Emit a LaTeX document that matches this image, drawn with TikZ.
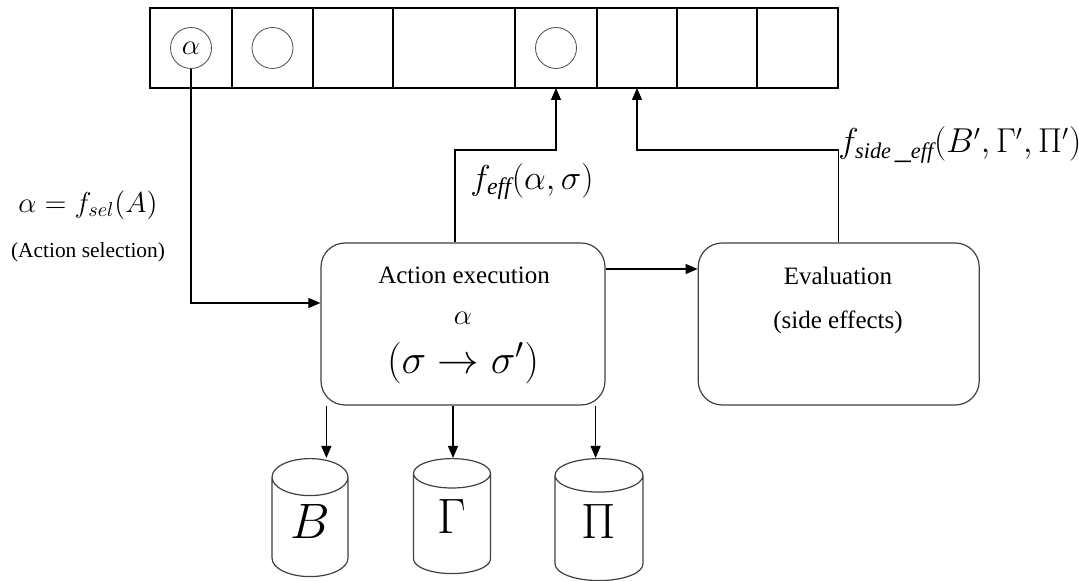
\documentclass[tikz,border=0pt]{standalone}
\usepackage{fontspec}
\setmainfont{Liberation Serif}
\usetikzlibrary{positioning,shapes.geometric,arrows.meta,calc}
\begin{document}
\begin{tikzpicture}[x=0.5pt,y=-0.5pt]

% Definitions
\tikzstyle{cell} = [rectangle, draw=black, minimum height=40pt, inner sep=0pt, outer sep=0pt, line width=0.6pt]
\tikzstyle{token} = [circle, draw=black!70, minimum size=20.5pt, inner sep=0pt, font=\fontsize{13.5}{16}\selectfont]
\tikzstyle{block} = [rectangle, rounded corners=12pt, minimum width=142pt, minimum height=81pt, draw=black!75, line width=0.6pt]
\tikzstyle{store} = [cylinder, shape border rotate=90, aspect=0.7, draw=black!75, line width=0.6pt, minimum width=38pt, minimum height=59pt, anchor=north, font=\fontsize{23}{27}\selectfont]
\tikzstyle{boxtext} = [inner sep=0pt, font=\fontsize{12.5}{15}\selectfont]
\tikzstyle{arrow} = [line width=0.6pt, -{Triangle[length=6pt,width=5pt]}]

\useasboundingbox (0,0) rectangle (1079,581);

% the strip of cells
\node (c1) [cell, minimum width=41pt, anchor=north west] at (150,8) {};
\node (c2) [cell, minimum width=40.5pt, right=0pt of c1] {};
\node (c3) [cell, minimum width=40pt, right=0pt of c2] {};
\node (c4) [cell, minimum width=61pt, right=0pt of c3] {};
\node (c5) [cell, minimum width=41pt, right=0pt of c4] {};
\node (c6) [cell, minimum width=40pt, right=0pt of c5] {};
\node (c7) [cell, minimum width=40pt, right=0pt of c6] {};
\node (c8) [cell, minimum width=40.5pt, right=0pt of c7] {};
\node (tok1) [token] at (c1) {$\alpha$};
\node (tok2) [token] at (c2) {};
\node (tok3) [token] at (c5) {};

% the two blocks
\node (act) [block] at (463,324) {};
\node (eval) [block, minimum width=140.5pt, right=46pt of act] {};
\node (acttitle) [boxtext] at (464,275) {Action execution};
\node (actalpha) [boxtext, font=\fontsize{13.5}{16}\selectfont] at (463,318) {$\alpha$};
\node (actstep) [inner sep=0pt, font=\fontsize{20}{24}\selectfont] at (463,363) {$(\sigma\rightarrow\sigma')$};
\node (evaltitle) [boxtext] at (838,276) {Evaluation};
\node (evalsub) [boxtext] at (838,322) {(side effects)};

% the stores
\node (bstore) [store] at (310,458) {\raisebox{-3pt}[0pt][0pt]{$B$}};
\node (gstore) [store, minimum width=38.5pt, minimum height=57.5pt] at (452,458) {\raisebox{-3pt}[0pt][0pt]{$\Gamma$}};
\node (pstore) [store, minimum width=44pt, minimum height=61pt] at (599,458) {\raisebox{-3pt}[0pt][0pt]{$\Pi$}};

% labels
\node (sel) [inner sep=0pt, font=\fontsize{14}{17}\selectfont] at (88,205) {$\alpha = f_{sel}(A)$};
\node (selnote) [inner sep=0pt, font=\fontsize{10.7}{13}\selectfont] at (88,252) {(Action selection)};
\node (feff) [inner sep=0pt, anchor=west, font=\fontsize{17}{20}\selectfont] at (470,182) {$f_{\mathit{eff}}(\alpha,\sigma)$};
\node (fside) [inner sep=0pt, anchor=west, font=\fontsize{16}{19}\selectfont] at (838,145) {$f_{\mathit{side}\,\_\mathit{eff}}(B',\Gamma',\Pi')$};

% connectors
\draw [arrow] (tok1.south) |- ([yshift=10.5pt]act.west);
\draw [arrow] ([yshift=27.5pt]act.east) -- ([yshift=27.5pt]act.east -| eval.west);
\draw [arrow] ([xshift=-4pt]act.north) |- ([yshift=-31pt]c5.south) -- (c5.south);
\draw [arrow] (eval.north) |- ([yshift=-31pt]c6.south) -- (c6.south);
\draw [arrow] ([xshift=3pt]act.south west) -- ([xshift=3pt]act.south west |- bstore.north);
\draw [arrow] ([xshift=-5pt]act.south) -- ([xshift=-5pt]act.south |- gstore.north);
\draw [arrow] ([xshift=-5pt]act.south east) -- ([xshift=-5pt]act.south east |- pstore.north);

\end{tikzpicture}
\end{document}
